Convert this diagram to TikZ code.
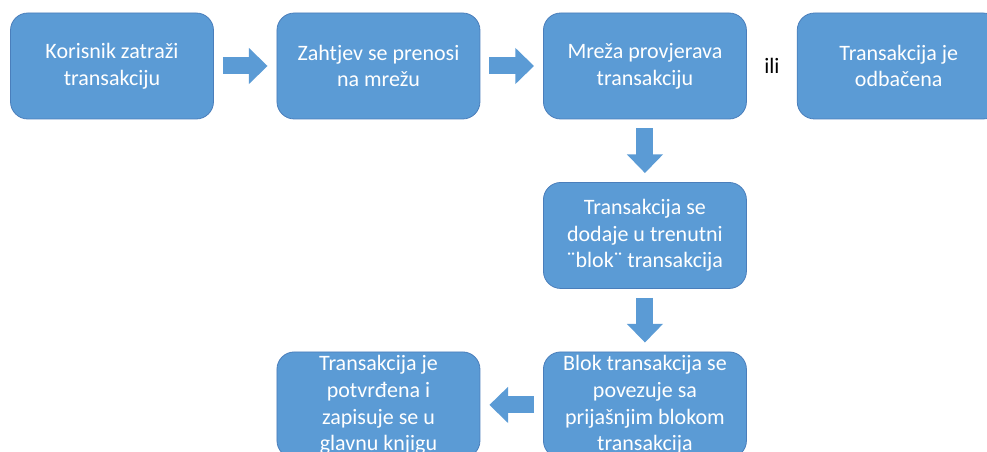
\documentclass[tikz,border=0pt]{standalone}
\usepackage{fontspec}
\setmainfont{Carlito}
\usepackage{xcolor}
\usetikzlibrary{arrows.meta, positioning, calc}

\definecolor{kutijaplava}{HTML}{5B9BD5}
\definecolor{rubplava}{HTML}{4A7EBB}

\begin{document}
\begin{tikzpicture}[x=0.75pt, y=-0.75pt, node distance=47pt,
    kutija/.style={rectangle, draw=rubplava, line width=0.6pt, fill=kutijaplava, rounded corners=13pt,
        minimum width=152.25pt, minimum height=79.5pt, inner xsep=2pt, inner ysep=0.5pt, align=center,
        text=white, font=\fontsize{16.5pt}{20pt}\selectfont},
    tok/.style={draw=kutijaplava, line width=12.75pt, -{Triangle[length=14pt, width=26.25pt]},
        shorten <=6.75pt, shorten >=6.75pt}]
    % Page frame
    \useasboundingbox (0,0) rectangle (987,452);
    \clip (0,0) rectangle (987,452);

    % Boxes
    \node (K1) [kutija] at (112,66) {Korisnik zatraži\\transakciju};
    \node (K2) [kutija, right=of K1] {Zahtjev se prenosi\\na mrežu};
    \node (K3) [kutija, right=of K2] {Mreža provjerava\\transakciju};
    \node (K4) [kutija, right=37.5pt of K3] {Transakcija je\\odbačena};
    \node (K5) [kutija, below=of K3] {Transakcija se\\dodaje u trenutni\\¨blok¨ transakcija};
    \node (K6) [kutija, below=of K5] {Blok transakcija se\\povezuje sa\\prijašnjim blokom\\transakcija};
    \node (K7) [kutija, left=of K6] {Transakcija je\\potvrđena i\\zapisuje se u\\glavnu knjigu};

    \node (ili) [font=\fontsize{16.5pt}{20pt}\selectfont] at ($(K3.east)!0.5!(K4.west)$) {ili};

    % Arrows
    \draw [tok] (K1) -- (K2);
    \draw [tok] (K2) -- (K3);
    \draw [tok] (K3) -- (K5);
    \draw [tok] (K5) -- (K6);
    \draw [tok] (K6) -- (K7);
\end{tikzpicture}
\end{document}
